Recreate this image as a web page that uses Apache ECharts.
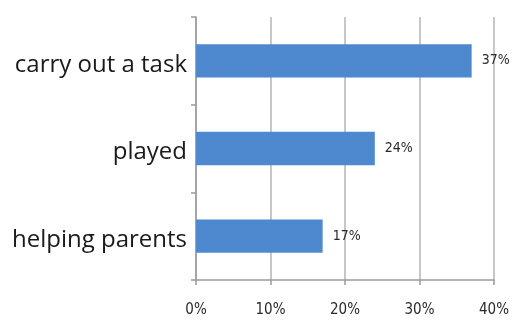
<!DOCTYPE html>
<html><head><meta charset="utf-8">
<script src="https://cdn.jsdelivr.net/npm/echarts@6/dist/echarts.min.js"></script>
<style>html,body{margin:0;padding:0;background:#fff}#c{width:515px;height:325px}</style>
</head><body><div id="c"></div>
<script>
const categories = ['helping parents', 'played', 'carry out a task'];
const values = [17, 24, 37];
const tickValues = [0, 10, 20, 30, 40];

const narrow = '"Liberation Sans Narrow","DejaVu Sans Condensed","Roboto Condensed",sans-serif';
const chart = echarts.init(document.getElementById('c'), null, {renderer: 'canvas'});
chart.setOption({
  animation: false,
  grid: {left: 196, right: 21, top: 17, bottom: 45, containLabel: false},
  xAxis: {
    type: 'value', min: 0, max: 40, interval: 10,
    axisLine: {show: true, lineStyle: {color: '#9a9a9a', width: 1.5}},
    axisTick: {show: true, length: 5, lineStyle: {color: '#9a9a9a', width: 1.5}},
    splitLine: {show: true, lineStyle: {color: '#b4b4b4', width: 1.5}},
    axisLabel: {margin: 23, color: '#2a2a2a', fontSize: 15, fontFamily: narrow, formatter: v => tickValues.includes(v) ? v + '%' : ''}
  },
  yAxis: {
    type: 'category', data: categories,
    axisLine: {show: true, lineStyle: {color: '#9a9a9a', width: 1.5}},
    axisTick: {show: true, length: 5, lineStyle: {color: '#9a9a9a', width: 1.5}},
    axisLabel: {
      margin: 9, color: '#1a1a1a', fontSize: 24, fontFamily: '"Open Sans","Noto Sans",sans-serif',
      formatter: v => '{t|' + v + '}',
      rich: {t: {fontSize: 24, color: '#1a1a1a', fontFamily: '"Open Sans","Noto Sans",sans-serif', padding: [8, 0, 0, 0]}}
    }
  },
  series: [{
    type: 'bar', data: values, barWidth: '38%',
    itemStyle: {color: '#4e89d0'},
    label: {show: true, position: 'right', distance: 10, formatter: p => p.value + '%', color: '#2a2a2a', fontSize: 14, fontFamily: narrow}
  }]
});
</script></body></html>
